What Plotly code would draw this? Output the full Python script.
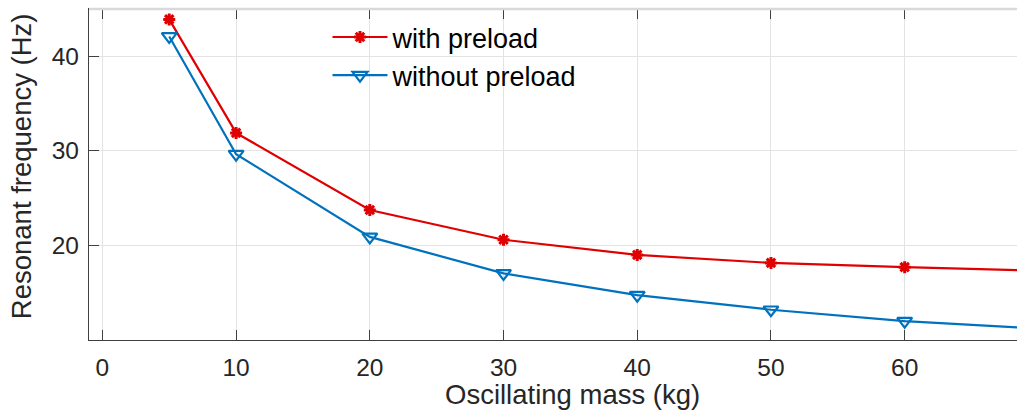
import plotly.graph_objects as go

mass = [5, 10, 20, 30, 40, 50, 60, 70]
with_preload = [43.9, 31.9, 23.75, 20.6, 19.0, 18.15, 17.7, 17.33]
without_preload = [42.1, 29.65, 20.9, 17.05, 14.75, 13.2, 12.0, 11.2]
xticks = [0, 10, 20, 30, 40, 50, 60]
yticks = [20, 30, 40]
x_title = "Oscillating mass (kg)"
y_title = "Resonant frequency (Hz)"

FONT = "Liberation Sans, Arial, Helvetica, sans-serif"
fig = go.Figure()
fig.add_trace(go.Scatter(
    x=mass, y=with_preload, mode="lines+markers", name="with preload",
    line=dict(color="#e00000", width=2.2),
    marker=dict(symbol="asterisk-open", size=10, color="#e00000", line=dict(width=3, color="#e00000"))))
fig.add_trace(go.Scatter(
    x=mass, y=without_preload, mode="lines+markers", name="without preload",
    line=dict(color="#0072bd", width=2.2),
    marker=dict(symbol="triangle-down-open", size=13, color="#0072bd", line=dict(width=2.2, color="#0072bd"))))

axis_font = dict(family=FONT, size=24.5, color="#262626")
fig.update_layout(
    width=1018, height=412,
    margin=dict(l=89, r=1, t=9, b=72, autoexpand=False),
    plot_bgcolor="white", paper_bgcolor="white",
    font=dict(family=FONT, size=24, color="#262626"),
    showlegend=True,
    legend=dict(x=0.257, y=0.988, xanchor="left", yanchor="top", bgcolor="rgba(0,0,0,0)",
                font=dict(size=27, color="#000000"), tracegroupgap=0, itemwidth=55),
)
fig.update_xaxes(
    range=[-1.0, 68.4], tickvals=xticks, ticks="inside", ticklen=10, tickcolor="#404040",
    mirror="ticks", showline=True, linecolor="#404040", linewidth=1.2,
    showgrid=True, gridcolor="#e3e3e3", zeroline=False, tickfont=axis_font,
    ticklabelstandoff=5, automargin=False)
fig.update_yaxes(
    range=[10, 45], tickvals=yticks, ticks="inside", ticklen=10, tickcolor="#404040",
    showline=True, linecolor="#404040", linewidth=1.2,
    showgrid=True, gridcolor="#e3e3e3", zeroline=False, tickfont=axis_font,
    ticklabelstandoff=4, automargin=False)
fig.add_shape(type="line", xref="paper", yref="paper", x0=0, x1=1, y0=1, y1=1,
              line=dict(color="#d9d9d9", width=2.5))
fig.add_annotation(text=x_title, xref="paper", yref="paper", x=0.5205, y=-0.166,
                   xanchor="center", yanchor="middle", showarrow=False,
                   font=dict(family=FONT, size=27.5, color="#262626"))
fig.add_annotation(text=y_title, xref="paper", yref="paper", x=-0.0733, y=0.525,
                   xanchor="center", yanchor="middle", showarrow=False, textangle=-90,
                   font=dict(family=FONT, size=27.5, color="#262626"))
fig.write_html("out.html", config={"displayModeBar": False},
               post_script="document.body.style.margin='0';document.body.style.overflow='hidden';")
